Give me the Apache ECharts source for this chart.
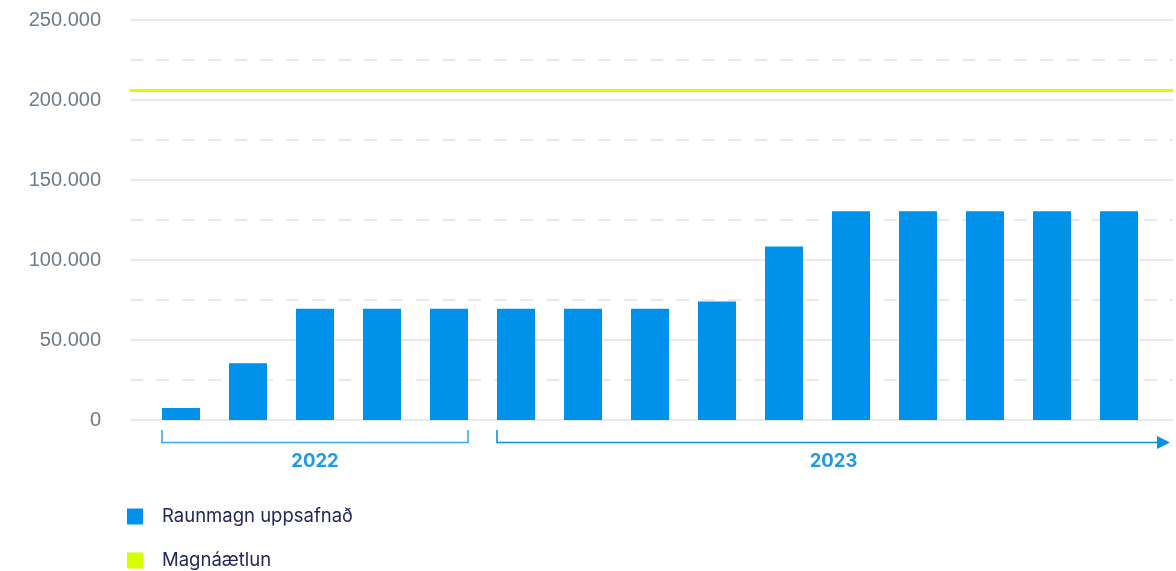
<!DOCTYPE html>
<html><head><meta charset="utf-8">
<script src="https://cdn.jsdelivr.net/npm/echarts@6/dist/echarts.min.js"></script>
<style>html,body{margin:0;padding:0;background:#fff}#c{width:1176px;height:571px}</style>
</head><body><div id="c"></div>
<script>
// ---- data ----
const categories = ['ágú 2022','sep 2022','okt 2022','nóv 2022','des 2022',
  'jan 2023','feb 2023','mar 2023','apr 2023','maí 2023','jún 2023','júl 2023','ágú 2023','sep 2023','okt 2023'];
const actual = [7500, 35500, 69500, 69500, 69500, 69500, 69500, 69500, 74000, 108500, 130500, 130500, 130500, 130500, 130500];
const plan = [206000, 206000, 206000, 206000, 206000, 206000, 206000, 206000, 206000, 206000, 206000, 206000, 206000, 206000, 206000];
const yearGroups = [
  {label: '2022', from: 0, to: 4, arrow: false},
  {label: '2023', from: 5, to: 14, arrow: true}
];
const seriesNames = ['Raunmagn uppsafnað', 'Magnáætlun'];

const BAR = '#0091ea', PLAN = '#d4ff00', GRID = '#dde3ea';
const chart = echarts.init(document.getElementById('c'));
const TOP = 20, BOTTOM = 151;
chart.setOption({
  animation: false,
  grid: [
    {left: 130, right: 3, top: TOP, bottom: BOTTOM},
    {left: 147.5, right: 23.5, top: TOP, bottom: BOTTOM}
  ],
  xAxis: [
    {gridIndex: 0, type: 'category', data: categories, boundaryGap: false, show: false},
    {gridIndex: 1, type: 'category', data: categories, axisLine: {show: false}, axisTick: {show: false}, axisLabel: {show: false}}
  ],
  yAxis: [
    {gridIndex: 0, type: 'value', min: 0, max: 250000, interval: 50000,
     axisLine: {show: false}, axisTick: {show: false},
     axisLabel: {margin: 29, color: '#6e7c87', fontSize: 20, fontFamily: 'Liberation Sans',
       formatter: v => v === 0 ? '0' : v.toLocaleString('de-DE')},
     splitLine: {lineStyle: {color: GRID, width: 1.5}},
     minorTick: {show: false, splitNumber: 2},
     minorSplitLine: {show: true, lineStyle: {color: GRID, width: 1.5, type: [13, 13]}}},
    {gridIndex: 1, type: 'value', min: 0, max: 250000, interval: 50000, show: false, splitLine: {show: false}}
  ],
  legend: {
    orient: 'vertical', left: 127, top: 507, height: 120, padding: 0, itemGap: 25, itemWidth: 16, itemHeight: 16,
    data: [{name: seriesNames[0], icon: 'rect'}, {name: seriesNames[1], icon: 'rect'}],
    textStyle: {color: '#23265a', fontSize: 18.5, fontFamily: 'Inter', padding: [0, 0, 0, 14]}
  },
  series: [
    {name: seriesNames[0], type: 'bar', xAxisIndex: 1, yAxisIndex: 1, data: actual, barWidth: 38,
     itemStyle: {color: BAR}},
    {name: seriesNames[1], type: 'line', xAxisIndex: 0, yAxisIndex: 0, data: plan, symbol: 'none',
     lineStyle: {color: PLAN, width: 3}, itemStyle: {color: PLAN}, z: 5}
  ]
});

// year brackets below the axis, positioned through the category scale
const half = 19;
const yBase = chart.convertToPixel({yAxisIndex: 1}, 0);
const yLine = yBase + 22.5, yTop = yBase + 10;
const els = [];
const COL = '#1e9be8';
yearGroups.forEach(g => {
  const x0 = chart.convertToPixel({xAxisIndex: 1}, g.from) - half;
  let x1 = chart.convertToPixel({xAxisIndex: 1}, g.to) + half;
  const pts = [[x0, yTop], [x0, yLine]];
  if (g.arrow) {
    x1 = x1 + 32;
    pts.push([x1 - 12, yLine]);
    els.push({type: 'polygon', shape: {points: [[x1 - 13, yLine - 6.5], [x1, yLine], [x1 - 13, yLine + 6.5]]}, style: {fill: '#0a8fe6'}});
  } else {
    pts.push([x1, yLine], [x1, yTop]);
  }
  els.push({type: 'polyline', shape: {points: pts}, style: {stroke: g.arrow ? '#0a8fe6' : '#3aa8ee', lineWidth: 1.6, fill: null}});
  els.push({type: 'text', x: (x0 + x1) / 2, y: yLine + 18.5,
    style: {text: g.label, fill: COL, font: 'bold 18.5px Inter', align: 'center', verticalAlign: 'middle'}});
});
chart.setOption({graphic: els});
</script>
</body></html>
